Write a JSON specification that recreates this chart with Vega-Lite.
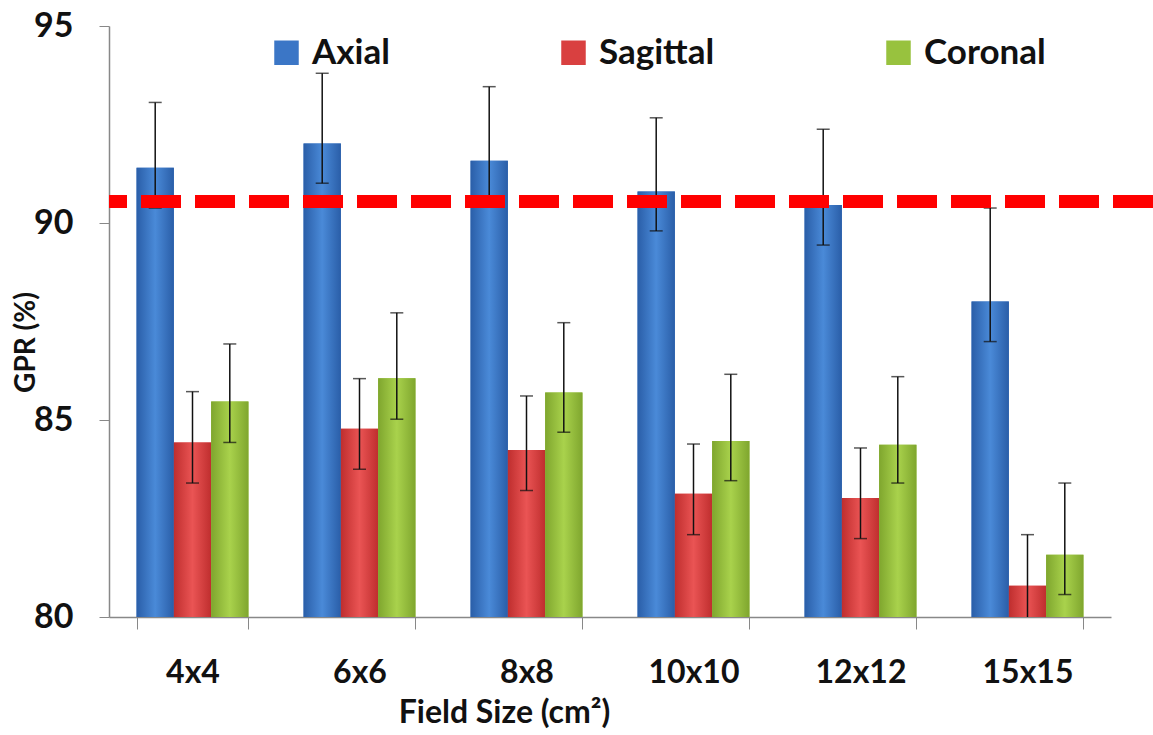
{
  "$schema": "https://vega.github.io/schema/vega-lite/v6.json",
  "width": 1044,
  "height": 591,
  "autosize": {"type": "none"},
  "padding": {"left": 109, "top": 26, "right": 0, "bottom": 118},
  "background": "white",
  "config": {"view": {"stroke": null}, "font": "Lato"},
  "data": {
    "values": [
      {"size": "4x4", "series": "Axial", "value": 91.40, "lo": 90.38, "hi": 93.06},
      {"size": "4x4", "series": "Sagittal", "value": 84.43, "lo": 83.40, "hi": 85.72},
      {"size": "4x4", "series": "Coronal", "value": 85.47, "lo": 84.43, "hi": 86.93},
      {"size": "6x6", "series": "Axial", "value": 92.02, "lo": 91.01, "hi": 93.80},
      {"size": "6x6", "series": "Sagittal", "value": 84.78, "lo": 83.75, "hi": 86.05},
      {"size": "6x6", "series": "Coronal", "value": 86.06, "lo": 85.02, "hi": 87.72},
      {"size": "8x8", "series": "Axial", "value": 91.58, "lo": 90.56, "hi": 93.46},
      {"size": "8x8", "series": "Sagittal", "value": 84.24, "lo": 83.21, "hi": 85.61},
      {"size": "8x8", "series": "Coronal", "value": 85.70, "lo": 84.69, "hi": 87.47},
      {"size": "10x10", "series": "Axial", "value": 90.80, "lo": 89.80, "hi": 92.67},
      {"size": "10x10", "series": "Sagittal", "value": 83.13, "lo": 82.09, "hi": 84.39},
      {"size": "10x10", "series": "Coronal", "value": 84.47, "lo": 83.46, "hi": 86.16},
      {"size": "12x12", "series": "Axial", "value": 90.46, "lo": 89.44, "hi": 92.38},
      {"size": "12x12", "series": "Sagittal", "value": 83.02, "lo": 81.99, "hi": 84.29},
      {"size": "12x12", "series": "Coronal", "value": 84.37, "lo": 83.40, "hi": 86.10},
      {"size": "15x15", "series": "Axial", "value": 88.01, "lo": 86.99, "hi": 90.38},
      {"size": "15x15", "series": "Sagittal", "value": 80.79, "lo": 79.78, "hi": 82.09},
      {"size": "15x15", "series": "Coronal", "value": 81.58, "lo": 80.57, "hi": 83.40}
    ]
  },
  "layer": [
    {
      "encoding": {
        "x": {
          "field": "size",
          "type": "nominal",
          "sort": ["4x4", "6x6", "8x8", "10x10", "12x12", "15x15"],
          "scale": {"range": [0, 1002], "paddingInner": 0.33, "paddingOuter": 0.165},
          "axis": {
            "title": "Field Size (cm²)",
            "titleFontSize": 32,
            "titleFontWeight": "bold",
            "titleColor": "#111",
            "titleX": 395,
            "titleY": 80,
            "labelAngle": 0,
            "labelFontSize": 32,
            "labelFontWeight": "bold",
            "labelColor": "#111",
            "labelPadding": 28,
            "tickBand": "extent",
            "tickSize": 12,
            "tickColor": "#888",
            "domainColor": "#888",
            "domainWidth": 1.5,
            "grid": false
          }
        },
        "xOffset": {
          "field": "series",
          "type": "nominal",
          "sort": ["Axial", "Sagittal", "Coronal"],
          "scale": {"domain": ["Axial", "Sagittal", "Coronal"], "paddingInner": 0, "paddingOuter": 0}
        }
      },
      "layer": [
        {
          "mark": {"type": "bar"},
          "encoding": {
            "y": {
              "field": "value",
              "type": "quantitative",
              "scale": {"domain": [80, 95], "nice": false, "zero": false},
              "axis": {
                "title": "GPR (%)",
                "titleFontSize": 28,
                "titleFontWeight": "bold",
                "titleColor": "#111",
                "titleX": -69,
                "titleY": 316,
                "values": [80, 85, 90, 95],
                "labelFontSize": 34,
                "labelFontWeight": "bold",
                "labelColor": "#111",
                "labelPadding": 26,
                "tickSize": 10,
                "tickColor": "#888",
                "domainColor": "#888",
                "domainWidth": 1.5,
                "grid": false
              }
            },
            "y2": {"datum": 80},
            "color": {
              "field": "series",
              "type": "nominal",
              "sort": ["Axial", "Sagittal", "Coronal"],
              "scale": {"domain": ["Axial", "Sagittal", "Coronal"], "range": ["#3b76c6", "#d94040", "#98c23e"]},
              "legend": {
                "orient": "none",
                "legendX": 160,
                "legendY": 9,
                "direction": "horizontal",
                "title": null,
                "symbolType": "square",
                "symbolSize": 600,
                "symbolStrokeWidth": 0,
                "labelFontSize": 35,
                "labelFontWeight": "bold",
                "labelColor": "#111",
                "labelOffset": 8,
                "columnPadding": 166
              }
            }
          }
        },
        {
          "transform": [{"filter": "datum.series === 'Axial'"}],
          "mark": {"type": "bar", "fill": {"gradient": "linear", "x1": 0, "x2": 1, "y1": 0, "y2": 0, "stops": [{"offset": 0, "color": "#2a5ea8"}, {"offset": 0.5, "color": "#4a8ad8"}, {"offset": 1, "color": "#2a5ea8"}]}},
          "encoding": {"y": {"field": "value", "type": "quantitative"}, "y2": {"datum": 80}}
        },
        {
          "transform": [{"filter": "datum.series === 'Sagittal'"}],
          "mark": {"type": "bar", "fill": {"gradient": "linear", "x1": 0, "x2": 1, "y1": 0, "y2": 0, "stops": [{"offset": 0, "color": "#bf2e2e"}, {"offset": 0.5, "color": "#ea5454"}, {"offset": 1, "color": "#bf2e2e"}]}},
          "encoding": {"y": {"field": "value", "type": "quantitative"}, "y2": {"datum": 80}}
        },
        {
          "transform": [{"filter": "datum.series === 'Coronal'"}],
          "mark": {"type": "bar", "fill": {"gradient": "linear", "x1": 0, "x2": 1, "y1": 0, "y2": 0, "stops": [{"offset": 0, "color": "#7fa62e"}, {"offset": 0.5, "color": "#a9d24c"}, {"offset": 1, "color": "#7fa62e"}]}},
          "encoding": {"y": {"field": "value", "type": "quantitative"}, "y2": {"datum": 80}}
        },
        {
          "mark": {"type": "rule", "color": "#111", "strokeWidth": 1.5, "clip": true},
          "encoding": {"y": {"field": "lo", "type": "quantitative"}, "y2": {"field": "hi"}}
        },
        {
          "mark": {"type": "tick", "color": "#111", "size": 13, "thickness": 1.5, "clip": true},
          "encoding": {"y": {"field": "hi", "type": "quantitative"}}
        },
        {
          "mark": {"type": "tick", "color": "#111", "size": 13, "thickness": 1.5, "clip": true},
          "encoding": {"y": {"field": "lo", "type": "quantitative"}}
        }
      ]
    },
    {
      "mark": {"type": "rule", "color": "#ff0000", "strokeWidth": 12, "strokeDash": [40, 14]},
      "encoding": {"y": {"datum": 90.55}}
    }
  ]
}
